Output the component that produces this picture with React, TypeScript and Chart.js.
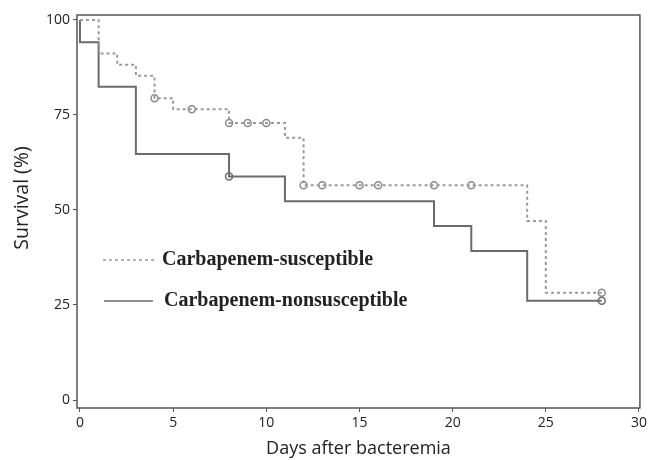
import React, { useEffect, useRef } from "react";
import { Chart, registerables } from "chart.js";

Chart.register(...registerables);

const susceptibleDays = [0, 1, 2, 3, 4, 5, 8, 11, 12, 24, 25, 28];
const susceptibleSurvival = [100, 91.2, 88.2, 85.3, 79.4, 76.5, 72.9, 69.0, 56.5, 47.1, 28.2, 28.2];
const nonsusceptibleDays = [0, 0, 1, 3, 8, 11, 19, 21, 24, 28];
const nonsusceptibleSurvival = [100, 94.1, 82.4, 64.7, 58.8, 52.3, 45.8, 39.2, 26.1, 26.1];
const susceptibleCensorDays = [4, 6, 8, 9, 10, 12, 13, 15, 16, 19, 21, 28];
const susceptibleCensorSurvival = [79.4, 76.5, 72.9, 72.9, 72.9, 56.5, 56.5, 56.5, 56.5, 56.5, 56.5, 28.2];
const nonsusceptibleCensorDays = [8, 28];
const nonsusceptibleCensorSurvival = [58.8, 26.1];
const xTicks = [0, 5, 10, 15, 20, 25, 30];
const yTicks = [0, 25, 50, 75, 100];
const legendLabels = ["Carbapenem-susceptible", "Carbapenem-nonsusceptible"];
const xTitle = "Days after bacteremia";
const yTitle = "Survival (%)";

const toPoints = (xs: number[], ys: number[]) => xs.map((x, i) => ({ x, y: ys[i] }));

const DOTTED = "#9a9a9a";
const SOLID = "#6b6b6b";

export default function App() {
  const ref = useRef<HTMLCanvasElement | null>(null);
  useEffect(() => {
    if (!ref.current) return;
    const framePlugin = {
      id: "frameLegend",
      afterDraw(chart: any) {
        const { ctx, chartArea } = chart;
        ctx.save();
        ctx.strokeStyle = "#555";
        ctx.lineWidth = 1.5;
        ctx.strokeRect(chartArea.left, chartArea.top, chartArea.right - chartArea.left, chartArea.bottom - chartArea.top);
        // y title
        ctx.save();
        ctx.translate(22, 198);
        ctx.rotate(-Math.PI / 2);
        ctx.fillStyle = "#222";
        ctx.font = "19.5px 'Open Sans'";
        ctx.textAlign = "center";
        ctx.textBaseline = "middle";
        ctx.fillText(yTitle, 0, 0);
        ctx.restore();
        // legend
        const rows = [
          { y: 260, dash: [3, 3], color: DOTTED, x1: 103, x2: 155, tx: 162 },
          { y: 301, dash: [], color: SOLID, x1: 104, x2: 153, tx: 164 },
        ];
        rows.forEach((r, i) => {
          ctx.beginPath();
          ctx.setLineDash(r.dash);
          ctx.strokeStyle = r.color;
          ctx.lineWidth = 1.5;
          ctx.moveTo(r.x1, r.y);
          ctx.lineTo(r.x2, r.y);
          ctx.stroke();
          ctx.setLineDash([]);
          ctx.fillStyle = "#222";
          ctx.font = "bold 20px 'Liberation Serif'";
          ctx.textBaseline = "middle";
          ctx.textAlign = "left";
          ctx.fillText(legendLabels[i], r.tx, r.y);
        });
        ctx.restore();
      },
    };
    const censorStyle = {
      showLine: false,
      pointStyle: "circle",
      pointRadius: 3.5,
      pointBorderWidth: 1.5,
      pointBackgroundColor: "rgba(255,255,255,0)",
    };
    const chart = new Chart(ref.current, {
      type: "line",
      data: {
        datasets: [
          {
            label: legendLabels[0],
            data: toPoints(susceptibleDays, susceptibleSurvival),
            stepped: "before",
            borderColor: DOTTED,
            borderWidth: 2,
            borderDash: [3, 3],
            pointRadius: 0,
            fill: false,
          },
          {
            label: legendLabels[1],
            data: toPoints(nonsusceptibleDays, nonsusceptibleSurvival),
            stepped: "before",
            borderColor: SOLID,
            borderWidth: 2,
            pointRadius: 0,
            fill: false,
          },
          {
            label: "censor-s",
            data: toPoints(susceptibleCensorDays, susceptibleCensorSurvival),
            pointBorderColor: "#8a8a8a",
            ...censorStyle,
          } as any,
          {
            label: "censor-n",
            data: toPoints(nonsusceptibleCensorDays, nonsusceptibleCensorSurvival),
            pointBorderColor: "#6b6b6b",
            ...censorStyle,
          } as any,
        ],
      },
      options: {
        responsive: false,
        animation: false,
        layout: { padding: { top: 15, right: 7, left: 0, bottom: 0 } },
        plugins: { legend: { display: false }, tooltip: { enabled: false } },
        scales: {
          x: {
            type: "linear",
            min: -0.16,
            max: 30.05,
            afterBuildTicks: (s: any) => {
              s.ticks = xTicks.map((v) => ({ value: v }));
            },
            afterFit: (s: any) => {
              s.height = 52;
            },
            grid: { drawOnChartArea: false, drawTicks: true, tickLength: 4, color: "#555" },
            border: { display: false },
            ticks: { color: "#222", font: { family: "'Open Sans'", size: 14 }, padding: 3, maxRotation: 0 },
            title: {
              display: true,
              text: xTitle,
              color: "#222",
              font: { family: "'Open Sans'", size: 18 },
              padding: { top: 0, bottom: 0 },
            },
          },
          y: {
            type: "linear",
            min: -2.1,
            max: 101.3,
            afterBuildTicks: (s: any) => {
              s.ticks = yTicks.map((v) => ({ value: v }));
            },
            afterFit: (s: any) => {
              s.width = 77;
            },
            grid: { drawOnChartArea: false, drawTicks: true, tickLength: 4, color: "#555" },
            border: { display: false },
            ticks: { color: "#222", font: { family: "'Open Sans'", size: 14 }, padding: 3 },
            title: { display: false },
          },
        },
      },
      plugins: [framePlugin],
    });
    return () => chart.destroy();
  }, []);
  return (
    <div style={{ position: "fixed", left: 0, top: 0, width: 650, height: 460, background: "#fff" }}>
      <canvas ref={ref} width={650} height={460} style={{ width: 650, height: 460 }} />
    </div>
  );
}
